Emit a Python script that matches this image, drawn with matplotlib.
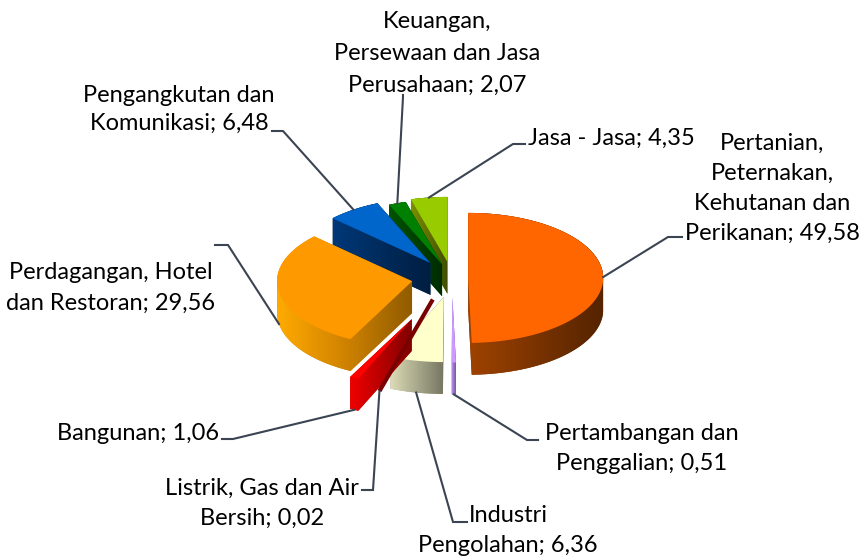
import numpy as np
import matplotlib
matplotlib.use("Agg")
import matplotlib.pyplot as plt
from matplotlib.patches import Polygon
from matplotlib.colors import LinearSegmentedColormap, to_rgb

# data, clockwise from 12 o'clock
categories = ["Pertanian,\nPeternakan,\nKehutanan dan\nPerikanan",
              "Pertambangan dan\nPenggalian",
              "Industri\nPengolahan",
              "Listrik, Gas dan Air\nBersih",
              "Bangunan",
              "Perdagangan, Hotel\ndan Restoran",
              "Pengangkutan dan\nKomunikasi",
              "Keuangan,\nPersewaan dan Jasa\nPerusahaan",
              "Jasa - Jasa"]
values = [49.58, 0.51, 6.36, 0.02, 1.06, 29.56, 6.48, 2.07, 4.35]

explode = [0.12, 0.3, 0.3, 0.36, 0.7, 0.3, 0.28, 0.22, 0.25]
top_colors = ["#FF6600", "#CC99FF", "#FFFFCC", "#990000", "#FF0000",
              "#FF9900", "#0066CC", "#008000", "#99CC00"]
side_colors = ["#7A3300", "#8E6CB8", "#A9A98C", "#7A0000", "#B80000",
               "#D08300", "#002B5C", "#004000", "#5E6E00"]

# label layout in image pixels (from top-left): centre x, y of each line
label_x = [772, 642, 508, 262, 138, 111, 179, 437, 611]
label_y = [[143, 173, 203, 233], [433, 463], [515, 545], [488, 518], [433],
           [272, 303], [95, 123], [22, 53, 85], [138]]
# short horizontal tick of each leader line, next to the text
ticks = [((682, 237), (668, 237)),
         ((538, 440), (527, 440)),
         ((467, 522), (453, 522)),
         ((362, 490), (373, 490)),
         ((222, 439), (233, 439)),
         ((215, 245), (228, 245)),
         ((272, 131), (283, 131)),
         ((403, 95), (403, 97)),
         ((525, 144), (513, 144))]

W, H = 863, 559
depth = 0.49  # side height in y units


def hull(points):
    # monotone chain convex hull
    pts = sorted(map(tuple, points))
    def cross(o, a, b):
        return (a[0] - o[0]) * (b[1] - o[1]) - (a[1] - o[1]) * (b[0] - o[0])
    lower, upper = [], []
    for p in pts:
        while len(lower) >= 2 and cross(lower[-2], lower[-1], p) <= 0:
            lower.pop()
        lower.append(p)
    for p in reversed(pts):
        while len(upper) >= 2 and cross(upper[-2], upper[-1], p) <= 0:
            upper.pop()
        upper.append(p)
    return np.array(lower[:-1] + upper[:-1])


def shade(col, f):
    return tuple(np.clip(np.array(to_rgb(col)) * f, 0, 1))


plt.rcParams['font.family'] = ['Lato', 'DejaVu Sans']
fig = plt.figure(figsize=(W / 100, H / 100), dpi=100)
ax = fig.add_axes([0, 0, 1, 1])
ax.axis('off')

fracs = np.array(values) / sum(values)
ends = np.cumsum(fracs)
starts = ends - fracs
wedges = []
for i in range(len(values)):
    t1 = 90 - ends[i] * 360
    t2 = 90 - starts[i] * 360
    mid = np.deg2rad((t1 + t2) / 2)
    d = np.array([np.cos(mid), np.sin(mid)])
    c = explode[i] * d
    a = np.deg2rad(np.linspace(t1, t2, 200))
    face = np.vstack([c, np.column_stack([c[0] + np.cos(a), c[1] + np.sin(a)])])
    wedges.append((i, face, d, c))

# back slices first
order = sorted(wedges, key=lambda w: -(w[3][1] + 0.5 * w[2][1]))
z = 1
for i, face, d, c in order:
    if fracs[i] < 0.001:
        # hairline slice: only its edge shows
        rim = c + d - [0, depth]
        ax.plot([c[0], rim[0]], [c[1], rim[1]], color=side_colors[i], lw=3,
                solid_capstyle='butt', zorder=40)
        continue
    side = hull(np.vstack([face, face - [0, depth]]))
    base = Polygon(side, closed=True, facecolor=side_colors[i], lw=0, zorder=z)
    ax.add_patch(base)
    cmap = LinearSegmentedColormap.from_list(
        "s", [shade(side_colors[i], 1.3), side_colors[i], shade(side_colors[i], 0.7)])
    x0, x1 = side[:, 0].min(), side[:, 0].max()
    y0, y1 = side[:, 1].min(), side[:, 1].max()
    im = ax.imshow(np.linspace(0, 1, 64)[None, :], cmap=cmap, aspect='auto',
                   extent=(x0, x1, y0, y1), zorder=z + 0.5, interpolation='bilinear')
    im.set_clip_path(base)
    ax.add_patch(Polygon(face, closed=True, facecolor=top_colors[i], lw=0,
                         zorder=z + 0.8))
    z += 1

ax.set_xlim(-452 / 135, (W - 452) / 135)
ax.set_ylim(-(H - 278) / 65, 278 / 65)

inv = ax.transData.inverted()


def to_data(p):
    return inv.transform((p[0], H - p[1]))


line_col = '#3B4452'
for i, face, d, c in wedges:
    # attach point: top rim for back slices, bottom of side for front ones
    p = c + d
    if d[1] < 0:
        p = p - np.array([0, depth])
    a = to_data(ticks[i][0])
    b = to_data(ticks[i][1])
    ax.plot([a[0], b[0], p[0]], [a[1], b[1], p[1]], color=line_col, lw=1.5,
            solid_joinstyle='miter', zorder=50)

    lines = categories[i].split("\n")
    lines[-1] = lines[-1] + "; " + f"{values[i]:.2f}".replace(".", ",")
    for txt, y in zip(lines, label_y[i]):
        fig.text(label_x[i] / W, 1 - y / H, txt, ha='center', va='center',
                 fontsize=17, color='black')

fig.savefig("out.png", dpi=100)
